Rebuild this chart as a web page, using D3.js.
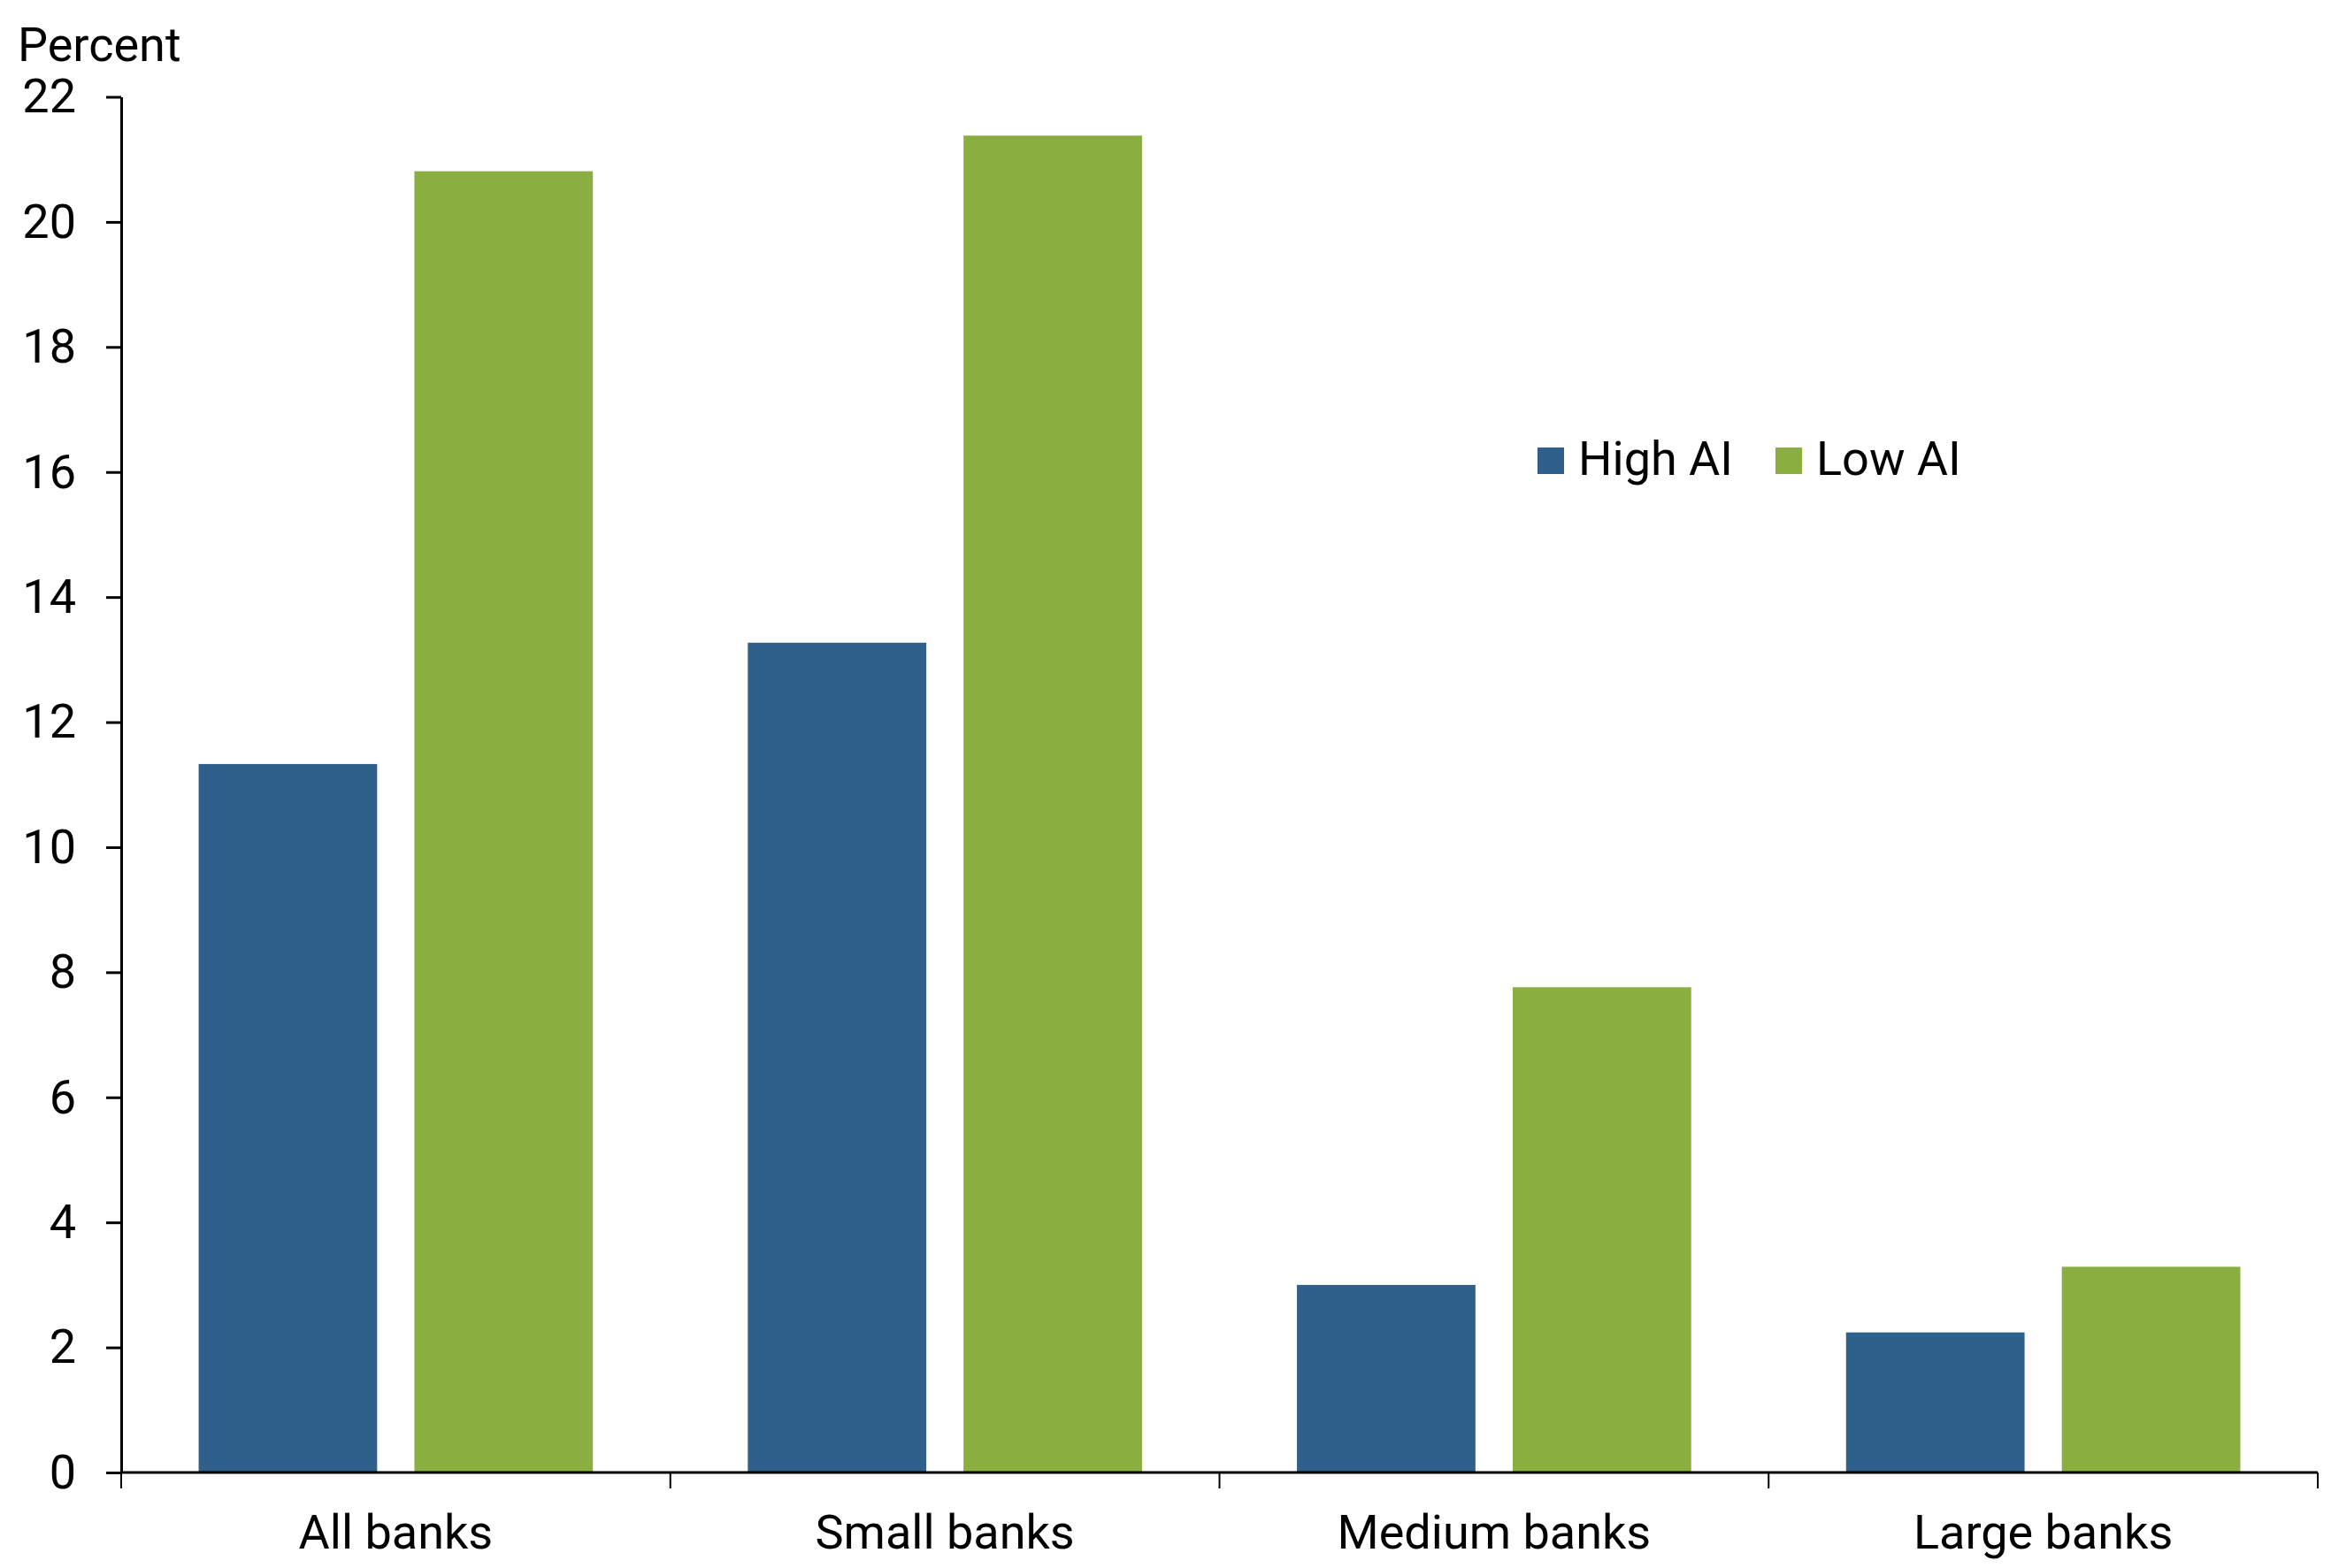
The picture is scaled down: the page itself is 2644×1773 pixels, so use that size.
<!DOCTYPE html>
<html>
<head>
<meta charset="utf-8">
<script src="https://cdn.jsdelivr.net/npm/d3@7"></script>
<style>
  html, body { margin: 0; padding: 0; background: #fff; }
  svg text { font-family: Roboto, "Noto Sans", sans-serif; fill: #000; }
</style>
</head>
<body>
<div id="chart"></div>
<script>
// Data
const categories = ['All banks', 'Small banks', 'Medium banks', 'Large banks'];
const seriesNames = ['High AI', 'Low AI'];
const highAI = [11.33, 13.27, 3.0, 2.24];
const lowAI = [20.81, 21.38, 7.76, 3.29];
const yTicks = [0, 2, 4, 6, 8, 10, 12, 14, 16, 18, 20, 22];
const colors = ['#2f5f8b', '#8bae41'];

const width = 2644, height = 1773;
const margin = { top: 109.5, right: 24, bottom: 108, left: 137 };

const svg = d3.select('#chart').append('svg')
    .attr('width', width)
    .attr('height', height);

const x0 = d3.scaleBand()
    .domain(categories)
    .range([margin.left, width - margin.right])
    .padding(0);

const x1 = d3.scaleBand()
    .domain(seriesNames)
    .range([0, x0.bandwidth()])
    .paddingInner(0.1726)
    .paddingOuter(0.359);

const y = d3.scaleLinear()
    .domain([0, 22])
    .range([height - margin.bottom, margin.top]);

const fontSize = 54;

// bars
const rows = categories.map((c, i) => ({ cat: c, vals: [highAI[i], lowAI[i]] }));
const group = svg.append('g')
    .selectAll('g')
    .data(rows)
    .enter().append('g')
    .attr('transform', d => `translate(${x0(d.cat)},0)`);

group.selectAll('rect')
    .data(d => d.vals.map((v, j) => ({ s: seriesNames[j], v: v, j: j })))
    .enter().append('rect')
    .attr('x', d => x1(d.s))
    .attr('width', x1.bandwidth())
    .attr('y', d => y(d.v))
    .attr('height', d => y(0) - y(d.v))
    .attr('fill', d => colors[d.j]);

// y axis
const yAxis = svg.append('g')
    .attr('transform', `translate(${margin.left},0)`)
    .call(d3.axisLeft(y).tickValues(yTicks).tickSize(17).tickSizeOuter(0).tickPadding(34));
yAxis.select('.domain').attr('stroke', '#000').attr('stroke-width', 3);
yAxis.selectAll('.tick line').attr('stroke', '#000').attr('stroke-width', 3);
yAxis.selectAll('.tick text')
    .attr('font-size', fontSize)
    .attr('font-family', 'Roboto, sans-serif')
    .attr('fill', '#000');

// x axis labels
const xAxis = svg.append('g')
    .attr('transform', `translate(0,${y(0)})`)
    .call(d3.axisBottom(x0).tickSize(0).tickPadding(48));
xAxis.select('.domain').remove();
xAxis.selectAll('.tick text')
    .attr('font-size', fontSize)
    .attr('font-family', 'Roboto, sans-serif')
    .attr('fill', '#000');

// x axis baseline and category boundary ticks
svg.append('line')
    .attr('x1', margin.left)
    .attr('x2', width - margin.right)
    .attr('y1', y(0))
    .attr('y2', y(0))
    .attr('stroke', '#000')
    .attr('stroke-width', 3);

const bounds = categories.map(c => x0(c)).concat([x0(categories[categories.length - 1]) + x0.bandwidth()]);
svg.append('g')
    .selectAll('line')
    .data(bounds)
    .enter().append('line')
    .attr('x1', d => d)
    .attr('x2', d => d)
    .attr('y1', y(0))
    .attr('y2', y(0) + 18)
    .attr('stroke', '#000')
    .attr('stroke-width', 2);

// unit label
svg.append('text')
    .attr('x', 20)
    .attr('y', 69)
    .attr('font-size', fontSize)
    .text('Percent');

// legend
const legendX = [1738, 2007];
const legend = svg.append('g')
    .selectAll('g')
    .data(seriesNames)
    .enter().append('g')
    .attr('transform', (d, i) => `translate(${legendX[i]},506)`);

legend.append('rect')
    .attr('width', 30)
    .attr('height', 30)
    .attr('fill', (d, i) => colors[i]);

legend.append('text')
    .attr('x', 46)
    .attr('y', 31)
    .attr('font-size', fontSize)
    .text(d => d);
</script>
</body>
</html>
